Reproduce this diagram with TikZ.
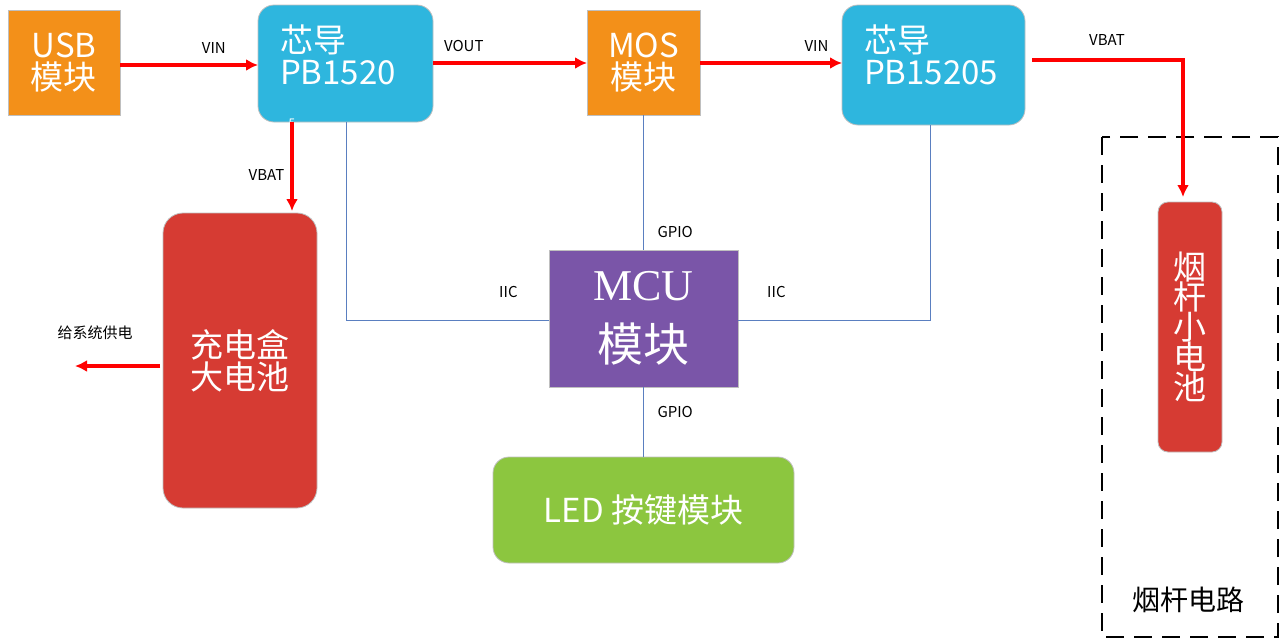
\documentclass[tikz,border=0pt]{standalone}
\usepackage{fontspec}
\setmainfont{Noto Sans CJK SC}
\newfontfamily\mcufont{Liberation Serif}
\definecolor{usbor}{HTML}{F39019}
\definecolor{chipcy}{HTML}{2EB6DE}
\definecolor{batred}{HTML}{D63B33}
\definecolor{mcupu}{HTML}{7A55A8}
\definecolor{ledgr}{HTML}{8CC63F}
\definecolor{busblue}{HTML}{5A7FC0}
\tikzset{
  box/.style={draw=black!25, text=white, align=center, font=\fontsize{16.5}{19}\selectfont},
  pwr/.style={red, line width=1.6pt, -{Latex[length=6pt,width=6pt]}},
  bus/.style={busblue, line width=0.5pt},
  lbl/.style={black, font=\fontsize{7.5}{9}\selectfont, inner sep=1pt}
}
\usetikzlibrary{arrows.meta}
\begin{document}
\begin{tikzpicture}[x=0.5pt, y=-0.5pt]
    \useasboundingbox (0, 0) rectangle (1280, 643);

    % modules
    \draw[box, fill=usbor] (8, 10) rectangle (120, 115) node[pos=.5] (usb) {USB\\[-3pt]模块};
    \draw[box, fill=chipcy, rounded corners=8pt] (258, 5) rectangle (433, 122) node[pos=.5] (chipa) {};
    \node[box, draw=none, align=left, anchor=north west] at (273, 18) {芯导\\[-3pt]PB1520};
    \node[box, draw=none, anchor=north, font=\fontsize{6}{6}\selectfont] at (292, 112) {5};
    \draw[box, fill=usbor] (587, 10) rectangle (700, 115) node[pos=.5] (mos) {MOS\\[-3pt]模块};
    \draw[box, fill=chipcy, rounded corners=8pt] (842, 5) rectangle (1025, 125) node[pos=.5] (chipb) {};
    \node[box, draw=none, align=left, anchor=north west] at (857, 18) {芯导\\[-3pt]PB15205};

    \draw[box, fill=batred, rounded corners=10pt] (163, 213) rectangle (317, 508) node[pos=.5] (bigbat) {充电盒\\[-3pt]大电池};
    \draw[box, fill=mcupu] (549, 250) rectangle (738, 387) node[pos=.5] (mcu) {{\mcufont\fontsize{22}{24}\selectfont MCU}\\[10pt]{\fontsize{23}{25}\selectfont 模块}};
    \draw[box, fill=ledgr, rounded corners=8pt] (493, 457) rectangle (794, 563) node[pos=.5] (led) {LED 按键模块};
    \draw[box, fill=batred, rounded corners=5pt] (1158, 202) rectangle (1222, 452) node[pos=.5] (smallbat) {烟\\[-4pt]杆\\[-4pt]小\\[-4pt]电\\[-4pt]池};

    % cigarette circuit
    \draw[dashed, line width=1.3pt, dash pattern=on 9pt off 5pt] (1102, 137) rectangle (1278, 637);
    \node[font=\fontsize{14}{16}\selectfont] (pipe) at (1188, 600) {烟杆电路};

    % power path
    \coordinate (turn) at (1183, 60);
    \draw[pwr] (120, 65) -- (258, 65) node[lbl, pos=.68, above=4pt] {VIN};
    \draw[pwr] (433, 63) -- (587, 63) node[lbl, pos=.2, above=4pt] {VOUT};
    \draw[pwr] (700, 63) -- (842, 63) node[lbl, pos=.82, above=4pt] {VIN};
    \draw[pwr] (1032, 60) -- (turn) -- (1183, 197);
    \node[lbl] at (1107, 40) {VBAT};
    \draw[pwr] (292, 122) -- (292, 211) node[lbl, pos=.6, left=2pt] {VBAT};
    \draw[pwr] (160, 366) -- (75, 366);
    \node[lbl] at (95, 333) {给系统供电};

    % signal bus
    \draw[bus] (346, 122) |- (549, 320) node[lbl, pos=.9, above=10pt] {IIC};
    \draw[bus] (930, 125) |- (738, 320) node[lbl, pos=.9, above=10pt] {IIC};
    \draw[bus] (643, 115) -- (643, 250) node[lbl, pos=.87, right=6pt] {GPIO};
    \draw[bus] (643, 387) -- (643, 457) node[lbl, pos=.35, right=6pt] {GPIO};
\end{tikzpicture}
\end{document}
